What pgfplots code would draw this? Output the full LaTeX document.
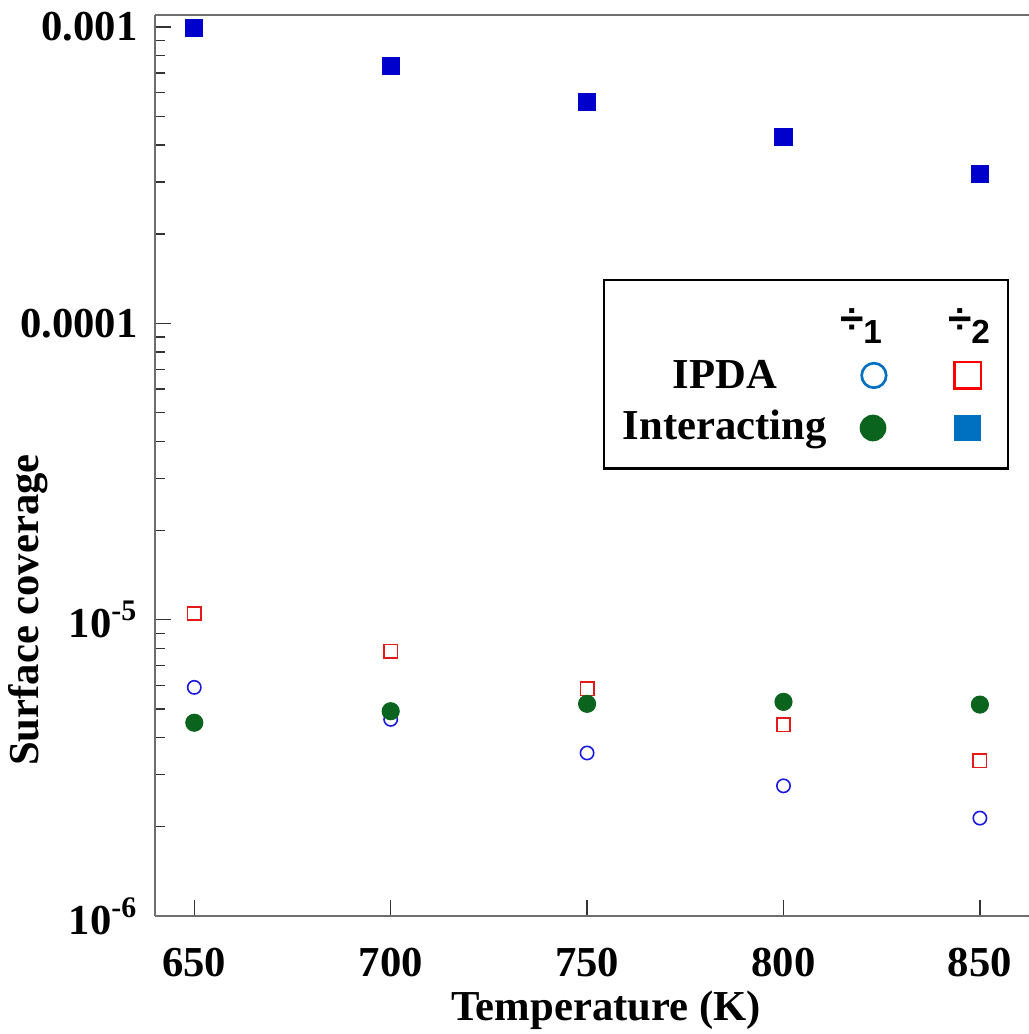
\documentclass[border=0pt]{standalone}
\usepackage{pgfplots}
\pgfplotsset{compat=1.18}
\usepackage{fontspec}
\setmainfont{Liberation Serif}
\setsansfont{Liberation Sans}
\definecolor{pblue}{RGB}{0,0,204}
\definecolor{pred}{RGB}{230,25,25}
\definecolor{pcirc}{RGB}{25,25,225}
\definecolor{pgreen}{RGB}{10,100,30}
\definecolor{lblue}{RGB}{0,112,192}
\definecolor{lred}{RGB}{255,0,0}
\definecolor{axgray}{RGB}{110,110,110}
\newcommand{\bigfont}{\bfseries\fontsize{16}{19}\selectfont}
\newcommand{\hdr}[1]{\sffamily\bfseries\fontsize{16}{19}\selectfont ÷\raisebox{-0.25em}{\fontsize{12.5}{13}\selectfont #1}}
\begin{document}
\begin{tikzpicture}
\begin{axis}[
 scale only axis, width=327.75pt, height=337.9pt,
 xmin=640, xmax=862.5, ymode=log, ymin=1e-6, ymax=1.098e-3,
 axis lines=left, axis line style={-, draw=axgray, line width=0.9pt},
 tick align=inside, tick style={black!80, line width=0.5pt},
 major tick length=6pt, minor tick length=3.6pt,
 xtick={650,700,750,800,850}, xticklabels={650,700,750,800,850},
 ytick={1e-6,1e-5,1e-4,1e-3}, yticklabels={10\textsuperscript{-6},10\textsuperscript{-5},0.0001,0.001},
 tick label style={font=\bigfont},
 xticklabel style={yshift=-8.6pt},
 yticklabel style={xshift=-3pt},
 xlabel={Temperature (K)}, ylabel={Surface coverage},
 label style={font=\bigfont},
 xlabel style={at={(axis description cs:0.516,-0.1045)}, anchor=center},
 ylabel style={at={(axis description cs:-0.1452,0.3396)}, anchor=center},
]
\addplot[only marks, mark=square*, mark size=3.2pt, draw=pblue, fill=pblue] coordinates {(650,9.9e-4) (700,7.4e-4) (750,5.6e-4) (800,4.25e-4) (850,3.2e-4)};
\addplot[only marks, mark=square, mark size=2.5pt, draw=pred, line width=0.6pt] coordinates {(650,1.05e-5) (700,7.83e-6) (750,5.85e-6) (800,4.42e-6) (850,3.34e-6)};
\addplot[only marks, mark=o, mark size=2.5pt, draw=pcirc, line width=0.6pt] coordinates {(650,5.91e-6) (700,4.61e-6) (750,3.55e-6) (800,2.75e-6) (850,2.14e-6)};
\addplot[only marks, mark=*, mark size=3.2pt, draw=pgreen, fill=pgreen] coordinates {(650,4.49e-6) (700,4.91e-6) (750,5.2e-6) (800,5.28e-6) (850,5.17e-6)};
\draw[axgray, line width=0.9pt] (rel axis cs:0,1) -- (rel axis cs:1,1);
\end{axis}
% legend (box, texts and legend symbols), in pt from the axis' lower left corner
\draw[black, line width=1pt, fill=white] (168.4pt,167.9pt) rectangle (319.9pt,238.5pt);
\node[font=\bigfont, anchor=base, inner sep=0pt] at (213.75pt,197.9pt) {IPDA};
\node[font=\bigfont, anchor=base, inner sep=0pt] at (213.6pt,178.5pt) {Interacting};
\node[anchor=center, inner sep=0pt] at (264.75pt,221.25pt) {\hdr{1}};
\node[anchor=center, inner sep=0pt] at (305.25pt,221.25pt) {\hdr{2}};
\draw[lblue, line width=1pt] (269.6pt,202.7pt) circle (4.6pt);
\draw[lred, line width=1pt] (299.7pt,197.7pt) rectangle (309.7pt,207.7pt);
\fill[pgreen] (269.25pt,183pt) circle (5pt);
\fill[lblue] (299.7pt,178pt) rectangle (309.7pt,188pt);
\pgfresetboundingbox
\useasboundingbox (-58.125pt,-44.25pt) rectangle (327.75pt,343.5pt);
\end{tikzpicture}
\end{document}
